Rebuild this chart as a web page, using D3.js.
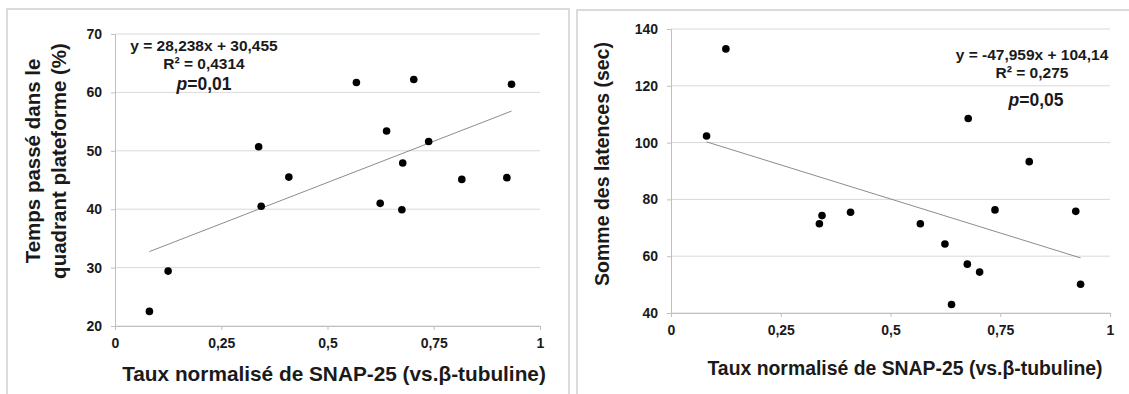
<!DOCTYPE html>
<html>
<head>
<meta charset="utf-8">
<script src="https://cdn.jsdelivr.net/npm/d3@7"></script>
<style>
  body { margin: 0; background: #fff; }
  text { font-family: "Liberation Sans", Arial, sans-serif; font-weight: bold; fill: #1a1a1a; }
</style>
</head>
<body>
<div id="chart"></div>
<script>
// data
var snapVals = [0.081, 0.125, 0.338, 0.344, 0.409, 0.568, 0.624, 0.639, 0.675, 0.677, 0.703, 0.738, 0.816, 0.922, 0.933];
var tempsVals = [22.5, 29.4, 50.7, 40.5, 45.5, 61.7, 41.0, 53.4, 39.9, 47.9, 62.2, 51.6, 45.1, 45.4, 61.4];
var latenceVals = [102.3, 133.0, 71.4, 74.3, 75.5, 71.4, 64.3, 43.0, 57.2, 108.5, 54.4, 76.3, 93.3, 75.8, 50.1];

var xTicks = [0, 0.25, 0.5, 0.75, 1];
var xTickLabels = ["0", "0,25", "0,5", "0,75", "1"];
var yTicksLeft = [20, 30, 40, 50, 60, 70];
var yTicksRight = [40, 60, 80, 100, 120, 140];

var fitLeft = [28.238, 30.455];   // slope, intercept
var fitRight = [-47.959, 104.14];
var eqLeft = ["y = 28,238x + 30,455", "R\u00b2 = 0,4314", "0,01"];
var eqRight = ["y = -47,959x + 104,14", "R\u00b2 = 0,275", "0,05"];

var xTitle = "Taux normalisé de SNAP-25 (vs.\u03b2-tubuline)";

var svg = d3.select("#chart")
    .append("svg")
    .attr("width", 1129)
    .attr("height", 394);

// panel frames
svg.append("rect").attr("x", 7).attr("y", 9).attr("width", 562).attr("height", 400)
    .attr("fill", "none").attr("stroke", "#cfcfcf").attr("stroke-width", 1.5);
svg.append("rect").attr("x", 577).attr("y", 10).attr("width", 580).attr("height", 400)
    .attr("fill", "none").attr("stroke", "#cfcfcf").attr("stroke-width", 1.5);

function drawPanel(p) {
    var x = d3.scaleLinear().domain([0, 1]).range([p.left, p.right]);
    var y = d3.scaleLinear().domain(d3.extent(p.yTicks)).range([p.bottom, p.top]);
    var g = svg.append("g");

    // gridlines
    g.selectAll(".grid")
        .data(p.yTicks)
        .enter()
        .append("line")
        .attr("x1", x(0)).attr("x2", x(1))
        .attr("y1", function (d) { return y(d); })
        .attr("y2", function (d) { return y(d); })
        .attr("stroke", "#d9d9d9").attr("stroke-width", 1);

    // y axis
    var yAxis = g.append("g")
        .attr("transform", "translate(" + p.left + ",0)")
        .call(d3.axisLeft(y).tickValues(p.yTicks).tickSize(4).tickPadding(9));
    // x axis
    var xAxis = g.append("g")
        .attr("transform", "translate(0," + p.bottom + ")")
        .call(d3.axisBottom(x).tickValues(xTicks).tickSize(4).tickPadding(8)
            .tickFormat(function (d, i) { return xTickLabels[i]; }));
    [xAxis, yAxis].forEach(function (a) {
        a.select(".domain").attr("stroke", "#bfbfbf");
        a.selectAll(".tick line").attr("stroke", "#bfbfbf");
        a.selectAll("text").style("font-size", "14px").attr("fill", "#1a1a1a");
    });

    // trend line
    var xr = d3.extent(p.xs);
    g.append("line")
        .attr("x1", x(xr[0])).attr("y1", y(p.fit[0] * xr[0] + p.fit[1]))
        .attr("x2", x(xr[1])).attr("y2", y(p.fit[0] * xr[1] + p.fit[1]))
        .attr("stroke", "#8c8c8c").attr("stroke-width", 1);

    // points
    g.selectAll(".dot")
        .data(p.ys)
        .enter()
        .append("circle")
        .attr("cx", function (d, i) { return x(p.xs[i]); })
        .attr("cy", function (d) { return y(d); })
        .attr("r", 3.8)
        .style("fill", "#000");

    // equation
    var eq = g.append("g").attr("text-anchor", "middle");
    eq.append("text").attr("x", p.eqX).attr("y", p.eqY).style("font-size", "15.5px").text(p.eq[0]);
    eq.append("text").attr("x", p.eqX).attr("y", p.eqY + 18).style("font-size", "15.5px").text(p.eq[1]);
    var pt = eq.append("text").attr("x", p.eqX + p.pdx).attr("y", p.eqY + p.pdy).style("font-size", "17.5px");
    pt.append("tspan").style("font-style", "italic").text("p");
    pt.append("tspan").text("=" + p.eq[2]);

    // x title
    g.append("text")
        .attr("x", p.xTitleX).attr("y", p.xTitleY)
        .attr("text-anchor", "middle")
        .style("font-size", p.xTitleSize + "px")
        .text(xTitle);

    // y title
    var yt = g.append("text")
        .attr("transform", "translate(" + p.yTitleX + "," + p.yTitleY + ") rotate(-90)")
        .attr("text-anchor", "middle")
        .style("font-size", p.yTitleSize + "px");
    p.yTitle.forEach(function (s, i) {
        yt.append("tspan").attr("x", 0).attr("dy", i === 0 ? 0 : 26).text(s);
    });
}

drawPanel({
    left: 115, right: 540, top: 34, bottom: 326,
    xs: snapVals, ys: tempsVals, yTicks: yTicksLeft, fit: fitLeft,
    eq: eqLeft, eqX: 204, eqY: 51, pdx: 0, pdy: 39,
    xTitleX: 334, xTitleY: 381, xTitleSize: 20.8,
    yTitle: ["Temps passé dans le", "quadrant plateforme (%)"], yTitleSize: 20.5,
    yTitleX: 40, yTitleY: 161
});

drawPanel({
    left: 671, right: 1110, top: 29, bottom: 313,
    xs: snapVals, ys: latenceVals, yTicks: yTicksRight, fit: fitRight,
    eq: eqRight, eqX: 1032, eqY: 60, pdx: 4, pdy: 46,
    xTitleX: 905, xTitleY: 375, xTitleSize: 19.4,
    yTitle: ["Somme des latences (sec)"], yTitleSize: 19.5,
    yTitleX: 609, yTitleY: 164
});
</script>
</body>
</html>
